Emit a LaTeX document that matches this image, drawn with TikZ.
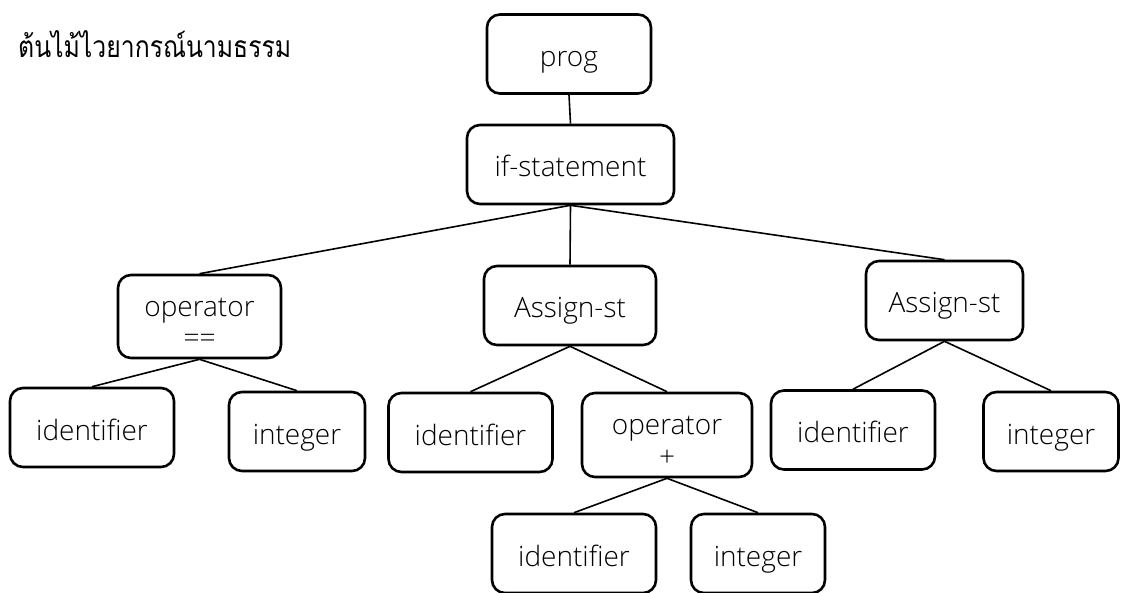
\documentclass[tikz,border=0pt]{standalone}
\usepackage{graphicx}
\usepackage{fontspec}
\setmainfont{Open Sans Light}
\newfontfamily\thaifont[Script=Thai]{Loma}
\begin{document}
\begin{tikzpicture}[x=1pt,y=-1pt,
  treebox/.style={draw, line width=2.6pt, rounded corners=13pt, inner sep=0pt,
    minimum height=79pt, text height=25pt, text depth=0pt,
    font=\fontsize{28}{32}\selectfont},
  opbox/.style={treebox, align=center, text depth=0pt},
  edge/.style={line width=1.6pt}]
  \useasboundingbox (0,0) rectangle (1121,593);

  % title
  \node[anchor=base west, inner sep=0pt, font=\thaifont\fontsize{30}{34}\selectfont] (title) at (18,58)
    {\resizebox{273pt}{\height}{ต้นไม้ไวยากรณ์นามธรรม}};

  % root and statement
  \node[treebox, minimum width=164pt] (prog) at (569,54) {prog};
  \node[treebox, minimum width=207pt] (ifst) at (570.5,164.5) {if-statement};

  % second level
  \node[opbox, minimum width=163pt, minimum height=83pt, text height=63pt] (opeq) at (199.5,316.5) {operator\\==};
  \node[treebox, minimum width=172pt] (asA) at (570,305.5) {Assign-st};
  \node[treebox, minimum width=157pt] (asB) at (944.5,300.5) {Assign-st};

  % third level
  \node[treebox, minimum width=164pt] (idA) at (92,427.5) {identifier};
  \node[treebox, minimum width=136pt] (inA) at (297,431.5) {integer};
  \node[treebox, minimum width=164pt] (idB) at (470.5,432.5) {identifier};
  \node[opbox, minimum width=170pt, minimum height=84pt, text height=62pt] (opplus) at (667,435) {operator\\+};
  \node[treebox, minimum width=164pt] (idC) at (853,430) {identifier};
  \node[treebox, minimum width=135pt] (inC) at (1051,431.5) {integer};

  % fourth level
  \node[treebox, minimum width=164pt] (idD) at (574,553.5) {identifier};
  \node[treebox, minimum width=134pt] (inD) at (758,553.5) {integer};

  % connectors
  \draw[edge] (prog.south) -- (ifst.north);
  \draw[edge] (ifst.south) -- (opeq.north);
  \draw[edge] (ifst.south) -- (asA.north);
  \draw[edge] (ifst.south) -- (asB.north);
  \draw[edge] (opeq.south) -- (idA.north);
  \draw[edge] (opeq.south) -- (inA.north);
  \draw[edge] (asA.south) -- (idB.north);
  \draw[edge] (asA.south) -- (opplus.north);
  \draw[edge] (asB.south) -- (idC.north);
  \draw[edge] (asB.south) -- (inC.north);
  \draw[edge] (opplus.south) -- (idD.north);
  \draw[edge] (opplus.south) -- (inD.north);
\end{tikzpicture}
\end{document}
